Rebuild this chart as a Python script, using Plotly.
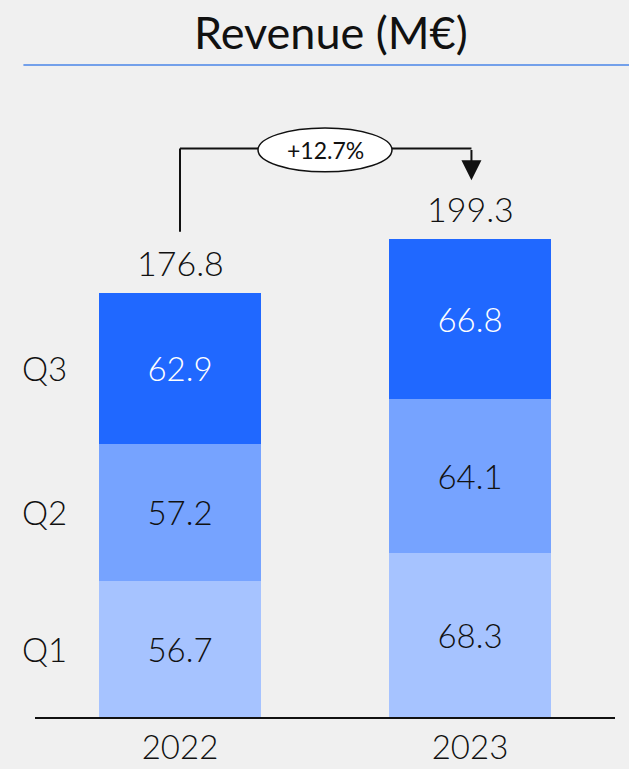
import plotly.graph_objects as go

# Revenue by quarter, in millions of euros
years = ["2022", "2023"]
quarters = ["Q1", "Q2", "Q3"]
q1 = [56.7, 68.3]
q2 = [57.2, 64.1]
q3 = [62.9, 66.8]
totals = [176.8, 199.3]
growth_label = "+12.7%"

colors = {"Q1": "#a6c3ff", "Q2": "#76a3ff", "Q3": "#2068ff"}
text_colors = {"Q1": "#111111", "Q2": "#111111", "Q3": "#ffffff"}
FONT = "Lato"

fig = go.Figure()
series = {"Q1": q1, "Q2": q2, "Q3": q3}
for q in quarters:
    fig.add_trace(go.Bar(
        x=years, y=series[q], name=q,
        marker=dict(color=colors[q], line=dict(width=0)),
        width=0.56,
        text=[f"{v:.1f}" for v in series[q]],
        textposition="inside", insidetextanchor="middle",
        textfont=dict(family=FONT, size=33, color=text_colors[q], weight=300),
        textangle=0,
    ))

# Quarter labels to the left of the first bar, at each segment's middle
base = 0
for q in quarters:
    v = series[q][0]
    fig.add_annotation(x=0.0, xref="paper", xanchor="center", xshift=9,
                       y=base + v / 2, yref="y", text=q, showarrow=False,
                       font=dict(family=FONT, size=33, color="#111111", weight=300))
    base += v

# Totals above the bars
for i, t in enumerate(totals):
    fig.add_annotation(x=i, xref="x", y=t, yref="y", text=f"{t:.1f}", showarrow=False,
                       yanchor="bottom", yshift=8,
                       font=dict(family=FONT, size=34, color="#111111", weight=300))

# Growth connector between the two totals
top_level = 237.0
start_y = totals[0] + 25.5
end_y = totals[1] + 24.5
fig.add_shape(type="line", xref="x", yref="y", x0=0, x1=0, y0=start_y, y1=top_level,
              line=dict(color="#111111", width=2))
fig.add_shape(type="line", xref="x", yref="y", x0=0, x1=1.005, y0=top_level, y1=top_level,
              line=dict(color="#111111", width=2))
fig.add_annotation(x=1.005, y=end_y, ax=1.005, ay=top_level, xref="x", yref="y",
                   axref="x", ayref="y", text="", showarrow=True,
                   arrowhead=2, arrowsize=2.0, arrowwidth=2, arrowcolor="#111111")
fig.add_shape(type="circle", xref="x", yref="y", x0=0.269, x1=0.731,
              y0=227.3, y1=245.6, fillcolor="#ffffff",
              line=dict(color="#111111", width=1.5))
fig.add_annotation(x=0.5, y=(227.3 + 245.6) / 2, xref="x", yref="y", text=growth_label,
                   showarrow=False, font=dict(family=FONT, size=23, color="#111111"))

# Title and its underline
fig.add_annotation(x=0.51, xref="paper", y=1.076, yref="paper", text="Revenue (M€)",
                   showarrow=False, yanchor="middle",
                   font=dict(family=FONT, size=45, color="#111111", weight=400))
fig.add_shape(type="line", xref="paper", yref="paper", x0=-0.02, x1=1.03,
              y0=1.0235, y1=1.0235, line=dict(color="#4a86e8", width=1.5))

fig.update_layout(
    barmode="stack", showlegend=False,
    width=629, height=769,
    margin=dict(l=35, r=14, t=80, b=52, autoexpand=False),
    paper_bgcolor="#f0f0f0", plot_bgcolor="#f0f0f0",
    bargap=0.44,
    xaxis=dict(type="category", range=[-0.5, 1.5], showline=True, linecolor="#111111",
               linewidth=2, showgrid=False, ticks="", automargin=False,
               tickfont=dict(family=FONT, size=33, color="#111111", weight=300)),
    yaxis=dict(range=[0, 265.6], visible=False, showgrid=False, automargin=False),
    uniformtext=dict(minsize=10, mode="show"),
)
fig.write_html("out.html")
